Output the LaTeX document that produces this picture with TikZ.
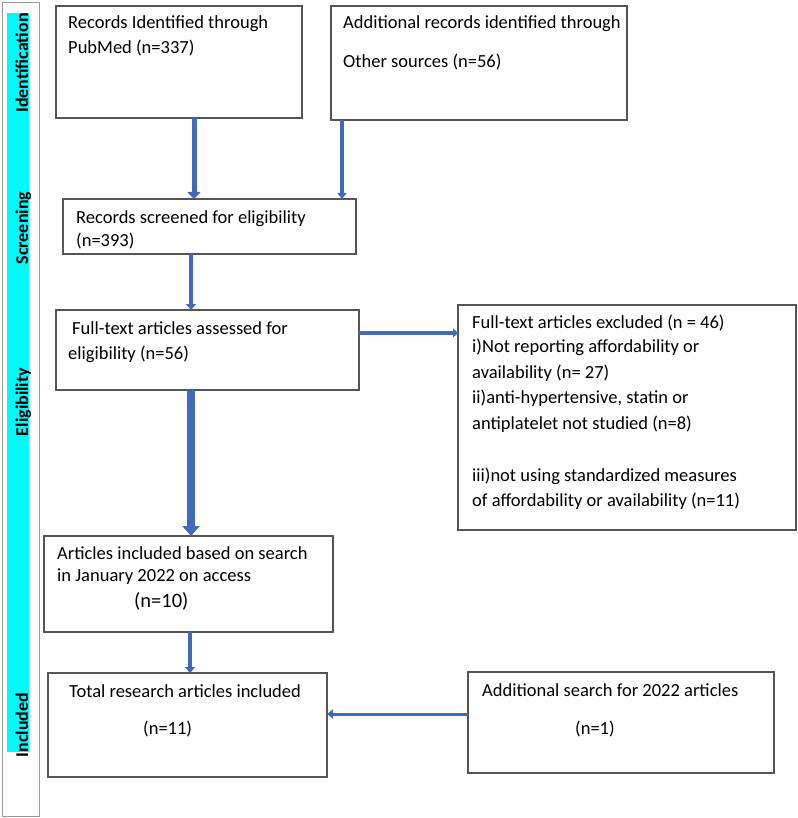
\documentclass[tikz,border=0pt]{standalone}
\usepackage{fontspec}
\setmainfont{Carlito}
\usetikzlibrary{arrows.meta}
\definecolor{arrblue}{RGB}{66,106,188}
\definecolor{boxgray}{RGB}{85,85,85}
\definecolor{sidecyan}{RGB}{0,250,250}
\tikzset{
  box/.style={draw=boxgray, line width=1.2pt, inner sep=0pt, outer sep=0pt, rectangle},
  txt/.style={anchor=base west, inner sep=0pt, font=\fontsize{18.5}{24}\selectfont},
  bigtxt/.style={anchor=base west, inner sep=0pt, font=\fontsize{20.5}{24}\selectfont},
  phase/.style={rotate=90, anchor=base, inner sep=0pt, font=\fontsize{18}{22}\selectfont\bfseries},
  flow/.style={draw=arrblue, line cap=butt},
}
\begin{document}
\begin{tikzpicture}[x=1pt,y=-1pt]
\useasboundingbox (0,0) rectangle (797,818);
% sidebar
\draw[draw=gray!80, line width=1pt] (2,3) rectangle (39,816);
\fill[sidecyan] (7,13) rectangle (29,752);
\node[phase] (pid) at (28,63) {Identification};
\node[phase] (psc) at (28,228) {Screening};
\node[phase] (pel) at (28,402) {Eligibility};
\node[phase] (pin) at (28,725) {Included};
% boxes
\node[box, minimum width=246pt, minimum height=112pt] (A) at (179,62) {};
\node[box, minimum width=296pt, minimum height=114pt] (B) at (479,63) {};
\node[box, minimum width=293pt, minimum height=55pt] (C) at (209.5,226.5) {};
\node[box, minimum width=303pt, minimum height=80pt] (D) at (207.5,350) {};
\node[box, minimum width=338pt, minimum height=225pt] (E) at (627,417.5) {};
\node[box, minimum width=289pt, minimum height=96pt] (F) at (188.5,584) {};
\node[box, minimum width=279pt, minimum height=104pt] (G) at (187.5,725) {};
\node[box, minimum width=306pt, minimum height=101pt] (H) at (621,722.5) {};
% texts
\node[txt] (a1) at (68,29) {Records Identified through};
\node[txt] (a2) at (68,54) {PubMed (n=337)};
\node[txt] (b1) at (343,29) {Additional records identified through};
\node[txt] (b2) at (343,68) {Other sources (n=56)};
\node[txt] (c1) at (76,223) {Records screened for eligibility};
\node[txt] (c2) at (76,246) {(n=393)};
\node[txt] (d1) at (72,334) {Full-text articles assessed for};
\node[txt] (d2) at (68,359) {eligibility (n=56)};
\node[txt] (e1) at (472,328) {Full-text articles excluded (n = 46)};
\node[txt] (e2) at (472,352) {i)Not reporting affordability or};
\node[txt] (e3) at (472,378) {availability (n= 27)};
\node[txt] (e4) at (472,403) {ii)anti-hypertensive, statin or};
\node[txt] (e5) at (472,429) {antiplatelet not studied (n=8)};
\node[txt] (e6) at (472,481) {iii)not using standardized measures};
\node[txt] (e7) at (472,506) {of affordability or availability (n=11)};
\node[txt] (f1) at (57,559) {Articles included based on search};
\node[txt] (f2) at (57,581) {in January 2022 on access};
\node[bigtxt] (f3) at (134,607) {(n=10)};
\node[txt] (g1) at (69,697) {Total research articles included};
\node[txt] (g2) at (143,734) {(n=11)};
\node[txt] (h1) at (482,696) {Additional search for 2022 articles};
\node[txt] (h2) at (575,734) {(n=1)};
% arrow coordinates
\coordinate (xa) at (194,0);
\coordinate (xb) at (342,0);
\coordinate (xc) at (191,0);
\coordinate (xf) at (190,0);
\coordinate (yd) at (0,333);
\coordinate (yh) at (0,714);
% connectors
\draw[flow, line width=5pt, -{Triangle[width=13pt,length=7pt]}] (A.south -| xa) -- (C.north -| xa);
\draw[flow, line width=3.5pt, -{Triangle[width=9pt,length=6pt]}] (B.south -| xb) -- (C.north -| xb);
\draw[flow, line width=4pt, -{Triangle[width=10pt,length=6pt]}] (C.south -| xc) -- (D.north -| xc);
\draw[flow, line width=4pt, -{Triangle[width=9pt,length=5pt]}] (D.east |- yd) -- (E.west |- yd);
\draw[flow, line width=8pt, -{Triangle[width=17pt,length=10pt]}] (D.south -| xc) -- (F.north -| xc);
\draw[flow, line width=4pt, -{Triangle[width=10pt,length=6pt]}] (F.south -| xf) -- (G.north -| xf);
\draw[flow, line width=3pt, -{Triangle[width=9pt,length=6pt]}] (H.west |- yh) -- (G.east |- yh);
\end{tikzpicture}
\end{document}
